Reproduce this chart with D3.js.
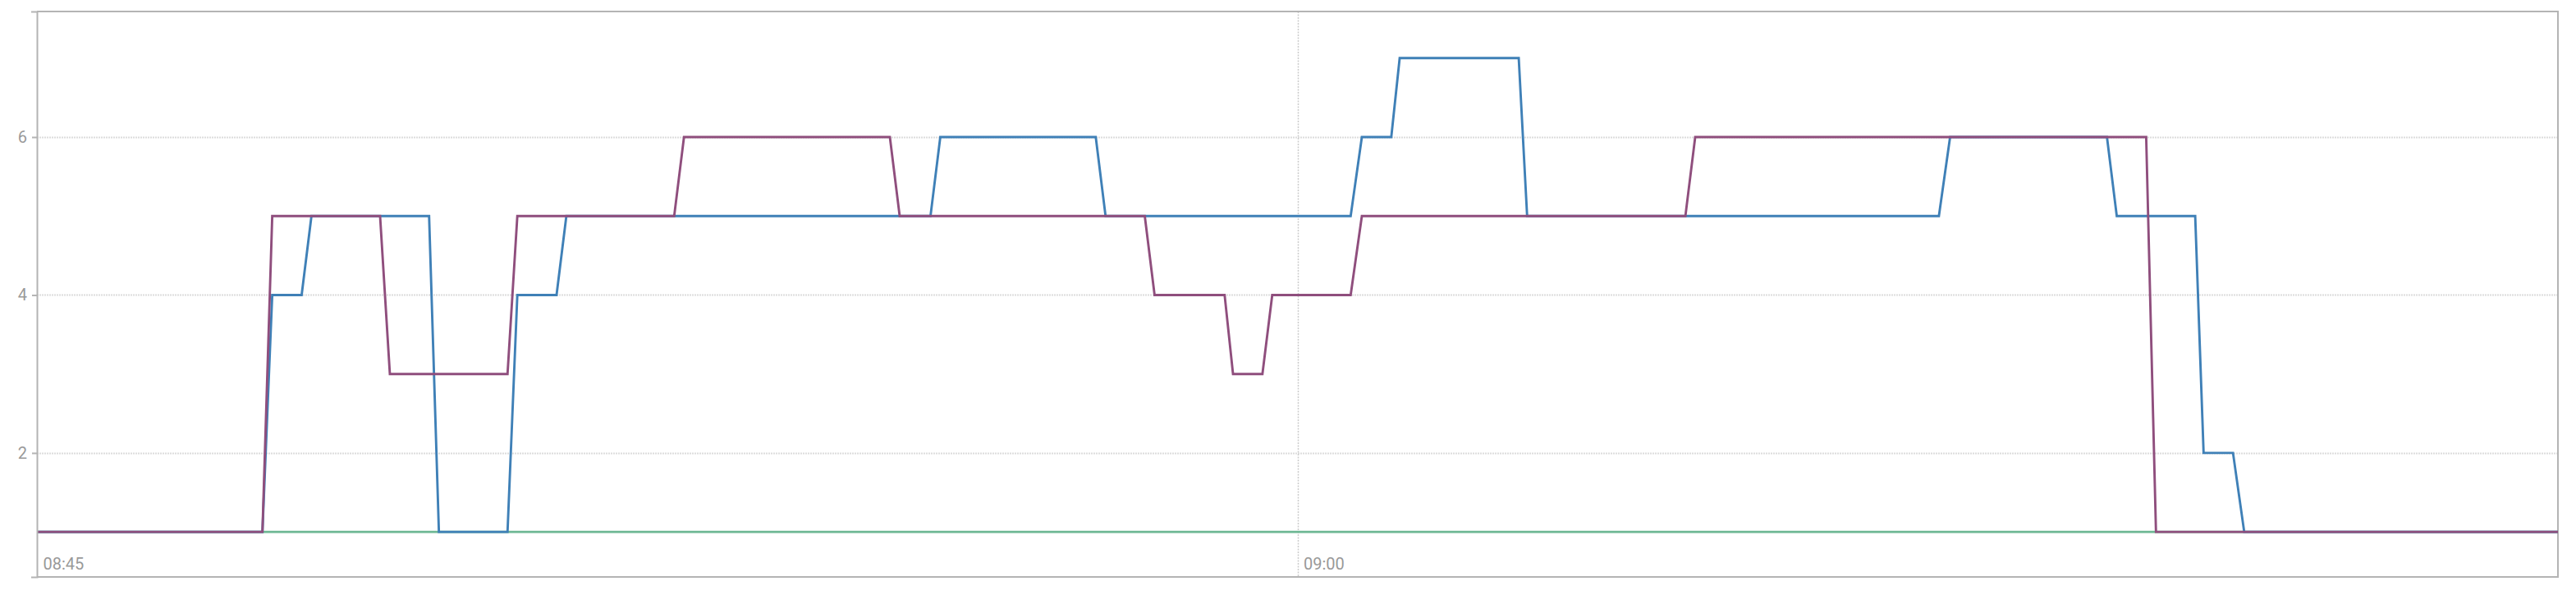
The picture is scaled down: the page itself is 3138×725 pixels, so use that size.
<!DOCTYPE html>
<html>
<head>
<meta charset="utf-8">
<script src="https://cdn.jsdelivr.net/npm/d3@7"></script>
<style>
  html, body { margin: 0; padding: 0; background: #fff; }
  svg { display: block; font-family: Roboto, "Liberation Sans", sans-serif; }
</style>
</head>
<body>
<svg id="chart" width="3138" height="725"></svg>
<script>
// ---- data ----
const xDomain = ["08:45:00", "09:15:00"];
const yDomain = [0.43, 7.59];
const yTickValues = [2, 4, 6];
const xTickValues = ["08:45:00", "09:00:00"];

const seriesNames = ["green", "blue", "purple"];
const seriesColors = ["#6db793", "#3f80b7", "#8f4e7d"];

const greenTimes = ["08:45:00", "09:15:00"];
const greenValues = [1, 1];

const blueTimes = [
  "08:45:00", "08:47:41", "08:47:48", "08:48:09", "08:48:16", "08:49:40", "08:49:47",
  "08:50:36", "08:50:43", "08:51:11", "08:51:18", "08:55:38", "08:55:45", "08:57:36",
  "08:57:43", "09:00:38", "09:00:46", "09:01:07", "09:01:13", "09:02:38", "09:02:44",
  "09:07:38", "09:07:46", "09:09:38", "09:09:45", "09:10:41", "09:10:47", "09:11:08",
  "09:11:16", "09:15:00"
];
const blueValues = [
  1, 1, 4, 4, 5, 5, 1,
  1, 4, 4, 5, 5, 6, 6,
  5, 5, 6, 6, 7, 7, 5,
  5, 6, 6, 5, 5, 2, 2,
  1, 1
];

const purpleTimes = [
  "08:45:00", "08:47:41", "08:47:48", "08:49:05", "08:49:12", "08:50:36", "08:50:43",
  "08:52:35", "08:52:42", "08:55:09", "08:55:16", "08:58:11", "08:58:18", "08:59:08",
  "08:59:14", "08:59:35", "08:59:42", "09:00:38", "09:00:46", "09:04:37", "09:04:44",
  "09:10:06", "09:10:13", "09:15:00"
];
const purpleValues = [
  1, 1, 5, 5, 3, 3, 5,
  5, 6, 6, 5, 5, 4, 4,
  3, 3, 4, 4, 5, 5, 6,
  6, 1, 1
];

// ---- chart ----
const parse = d3.timeParse("%H:%M:%S");
const plotLeft = 45, plotRight = 3116, plotTop = 14, plotBottom = 703;

const x = d3.scaleTime().domain(xDomain.map(parse)).range([plotLeft, plotRight]);
const y = d3.scaleLinear().domain(yDomain).range([plotBottom, plotTop]);

const svg = d3.select("#chart");

// horizontal gridlines
svg.append("g").selectAll("line").data(yTickValues).join("line")
  .attr("x1", plotLeft).attr("x2", plotRight)
  .attr("y1", d => Math.round(y(d)) + 0.5).attr("y2", d => Math.round(y(d)) + 0.5)
  .attr("stroke", "#dcdcdc").attr("stroke-width", 2).attr("stroke-dasharray", "2,1");

// vertical gridlines
svg.append("g").selectAll("line").data(xTickValues.slice(1).map(parse)).join("line")
  .attr("x1", d => Math.round(x(d)) + 0.5).attr("x2", d => Math.round(x(d)) + 0.5)
  .attr("y1", plotTop).attr("y2", plotBottom)
  .attr("stroke", "#cccccc").attr("stroke-width", 1.5).attr("stroke-dasharray", "2,1.5");

// frame (top/right/bottom)
svg.append("path")
  .attr("d", `M${plotLeft},${plotTop}H${plotRight}V${plotBottom}H${plotLeft}`)
  .attr("fill", "none").attr("stroke", "#b4b4b4").attr("stroke-width", 2);

// lines
const line = d3.line().x(d => x(d[0])).y(d => y(d[1]));
const seriesData = [
  greenTimes.map((t, i) => [parse(t), greenValues[i]]),
  blueTimes.map((t, i) => [parse(t), blueValues[i]]),
  purpleTimes.map((t, i) => [parse(t), purpleValues[i]])
];
svg.append("g").selectAll("path").data(seriesData).join("path")
  .attr("d", line)
  .attr("fill", "none")
  .attr("stroke", (d, i) => seriesColors[i])
  .attr("stroke-width", 2.9)
  .attr("stroke-linejoin", "miter");

// y axis
const yAxis = svg.append("g").attr("transform", `translate(${plotLeft},0)`)
  .call(d3.axisLeft(y).tickValues(yTickValues).tickSize(6).tickPadding(6).tickSizeOuter(7));
yAxis.select(".domain").attr("stroke", "#b4b4b4").attr("stroke-width", 2);
yAxis.selectAll(".tick line").attr("stroke", "#b4b4b4").attr("stroke-width", 2);
yAxis.selectAll("text").attr("fill", "#999").style("font-size", "20px")
  .style("font-family", "Roboto, sans-serif");

// x axis labels (inside plot, to the right of the tick)
const xAxis = svg.append("g").attr("transform", `translate(0,${plotBottom})`)
  .call(d3.axisBottom(x).tickValues(xTickValues.map(parse))
    .tickFormat(d3.timeFormat("%H:%M")).tickSize(0));
xAxis.select(".domain").remove();
xAxis.selectAll("text")
  .attr("text-anchor", "start").attr("x", 7).attr("y", -9).attr("dy", 0)
  .attr("fill", "#999").style("font-size", "20px")
  .style("font-family", "Roboto, sans-serif");
</script>
</body>
</html>
